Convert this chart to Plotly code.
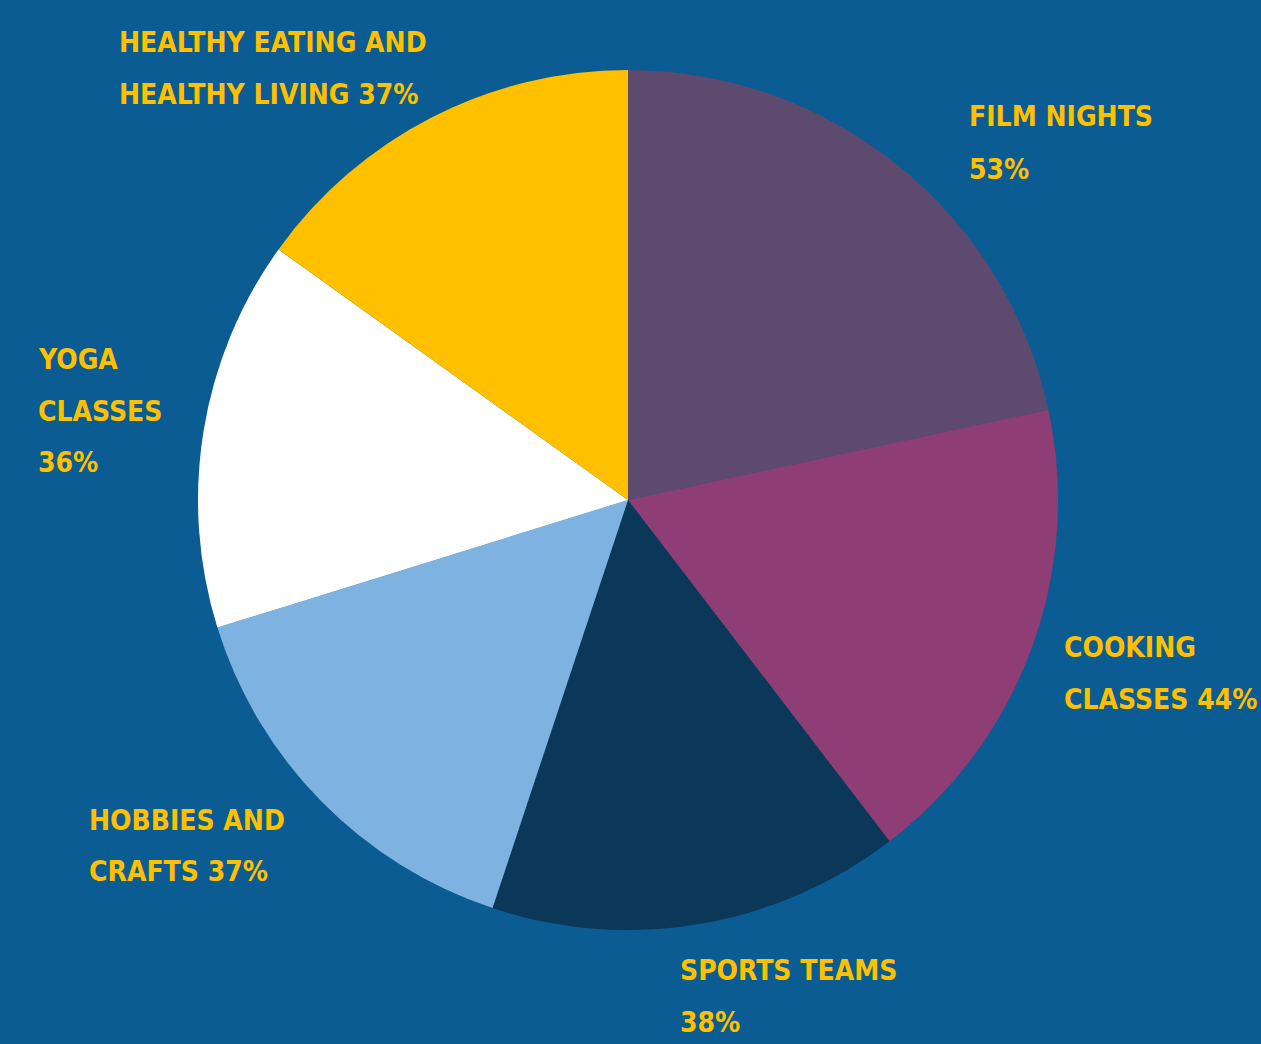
import plotly.graph_objects as go

categories = ["Film Nights", "Cooking Classes", "Sports Teams", "Hobbies and Crafts", "Yoga Classes", "Healthy Eating and Healthy Living"]
values = [53, 44, 38, 37, 36, 37]
colors = ["#5E4A6E", "#8E3E74", "#0B3858", "#7EB2E0", "#FFFFFF", "#FFC000"]

# label lines (text, left x px, line centre y px)
label_lines = [
    ("HEALTHY EATING AND", 117, 42),
    ("HEALTHY LIVING 37%", 117, 95),
    ("FILM NIGHTS", 967, 117),
    ("53%", 967, 169),
    ("COOKING", 1062, 647),
    ("CLASSES 44%", 1062, 699),
    ("YOGA", 36, 359),
    ("CLASSES", 36, 411),
    ("36%", 36, 463),
    ("HOBBIES AND", 87, 820),
    ("CRAFTS 37%", 87, 872),
    ("SPORTS TEAMS", 678, 970),
    ("38%", 678, 1022),
]

W, H = 1261, 1044
cx, cy, r = 628, 500, 430

fig = go.Figure(go.Pie(
    labels=categories,
    values=values,
    marker=dict(colors=colors, line=dict(width=0)),
    sort=False,
    direction="clockwise",
    rotation=0,
    textinfo="none",
    hoverinfo="label+value",
    showlegend=False,
    domain=dict(x=[(cx - r) / W, (cx + r) / W], y=[(H - cy - r) / H, (H - cy + r) / H]),
))

font_family = "Liberation Sans Narrow, Arial Narrow, DejaVu Sans Condensed, sans-serif"
for text, x, y in label_lines:
    fig.add_annotation(
        text="<b>" + text + "</b>",
        x=x / W, y=(H - y) / H, xref="paper", yref="paper",
        xanchor="left", yanchor="middle", showarrow=False,
        font=dict(family=font_family, size=28, color="#FFC000"),
    )

fig.update_layout(
    width=W, height=H,
    margin=dict(l=0, r=0, t=0, b=0),
    paper_bgcolor="#0B5C93",
    plot_bgcolor="#0B5C93",
)

fig.write_html("out.html")
